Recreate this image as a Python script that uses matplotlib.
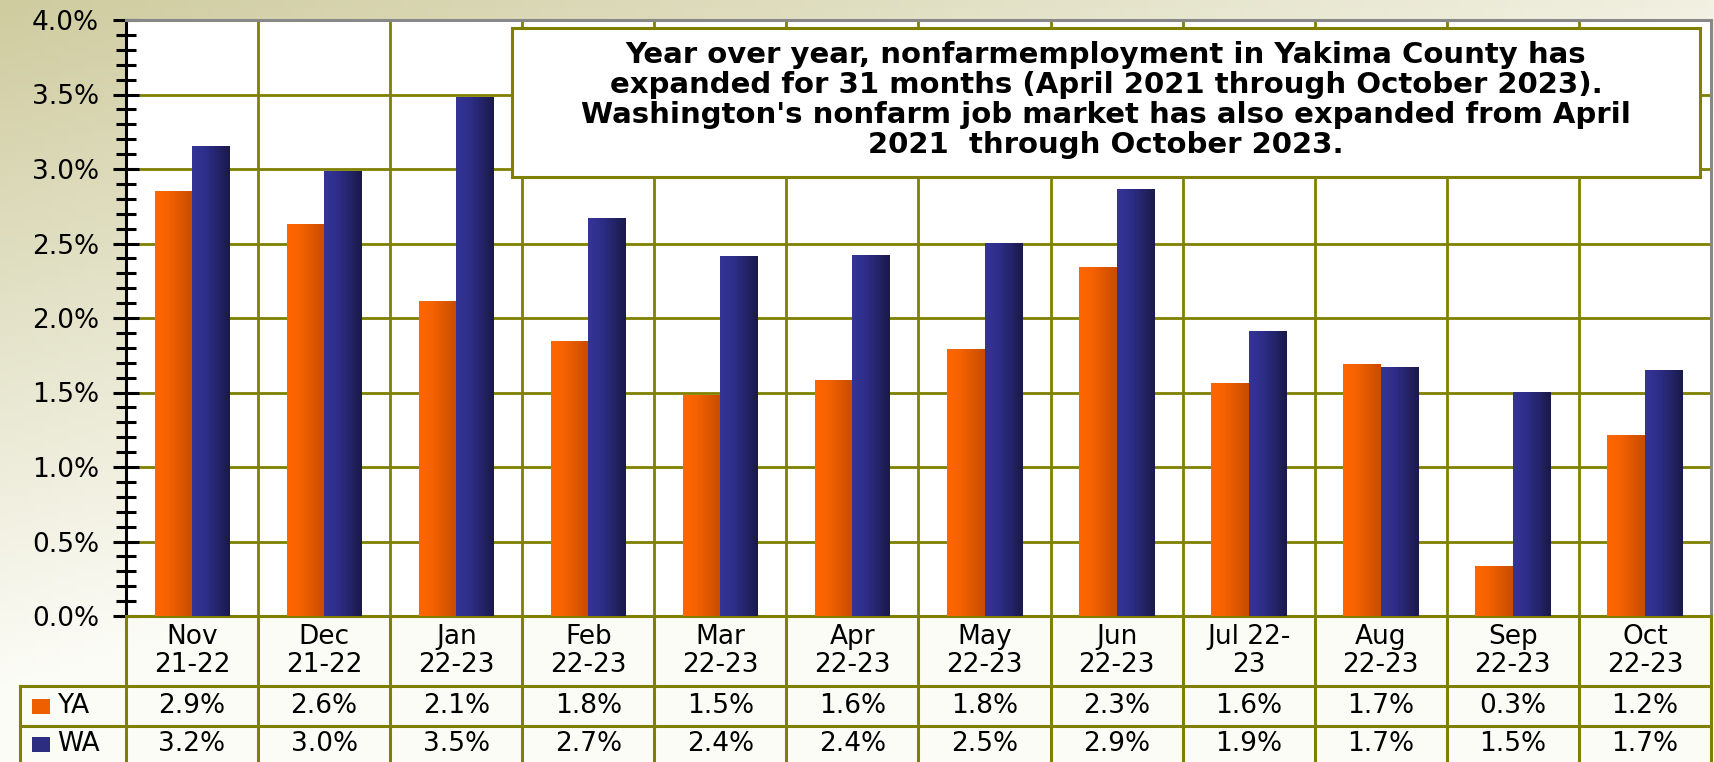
import numpy as np
import matplotlib
matplotlib.use('Agg')
import matplotlib.pyplot as plt
from matplotlib.colors import LinearSegmentedColormap
from matplotlib.patches import Rectangle

# data
months = ['Nov\n21-22', 'Dec\n21-22', 'Jan\n22-23', 'Feb\n22-23', 'Mar\n22-23', 'Apr\n22-23',
          'May\n22-23', 'Jun\n22-23', 'Jul 22-\n23', 'Aug\n22-23', 'Sep\n22-23', 'Oct\n22-23']
ya = [2.85, 2.63, 2.11, 1.84, 1.48, 1.58, 1.79, 2.34, 1.56, 1.69, 0.33, 1.21]
wa = [3.15, 2.98, 3.48, 2.67, 2.41, 2.42, 2.50, 2.86, 1.91, 1.67, 1.50, 1.65]
ya_labels = ['2.9%', '2.6%', '2.1%', '1.8%', '1.5%', '1.6%', '1.8%', '2.3%', '1.6%', '1.7%', '0.3%', '1.2%']
wa_labels = ['3.2%', '3.0%', '3.5%', '2.7%', '2.4%', '2.4%', '2.5%', '2.9%', '1.9%', '1.7%', '1.5%', '1.7%']
series_names = ['YA', 'WA']
yticks = np.arange(0, 4.01, 0.5)
note = ("Year over year, nonfarmemployment in Yakima County has\n"
        "expanded for 31 months (April 2021 through October 2023).\n"
        "Washington's nonfarm job market has also expanded from April\n"
        "2021  through October 2023.")

OLIVE = '#808000'
W, H = 1715, 762
plt.rcParams['font.family'] = ['DejaVu Sans']

fig = plt.figure(figsize=(W / 100, H / 100), dpi=100)

# background gradient (olive-beige top-left to white bottom-right)
bg = fig.add_axes([0, 0, 1, 1], zorder=-10)
xx, yy = np.meshgrid(np.linspace(0, 1, 200), np.linspace(0, 1, 100))
t = np.clip(0.75 * xx + 1.1 * yy, 0, 1)[..., None]
c0 = np.array([207, 204, 160]) / 255
img = c0 * (1 - t) + np.array([0.99, 0.99, 0.97]) * t
bg.imshow(img, aspect='auto', extent=[0, 1, 1, 0])
bg.axis('off')

L, R, T, B = 126, 1711, 20, 616
ax = fig.add_axes([L / W, 1 - B / H, (R - L) / W, (B - T) / H])
ax.set_facecolor('white')

n = len(months)
x = np.arange(n)
bw = 0.284
b1 = ax.bar(x - bw / 2, ya, bw, color='#FF6600', zorder=3)
b2 = ax.bar(x + bw / 2, wa, bw, color='#333399', zorder=3)

orange = LinearSegmentedColormap.from_list('o', [(0, '#FF6600'), (0.35, '#F56200'), (1, '#C84C00')])
navy = LinearSegmentedColormap.from_list('n', [(0, '#343496'), (0.35, '#2E2E8A'), (1, '#1A1A4A')])
grad = np.linspace(0, 1, 64).reshape(1, -1)
for bars, cm in ((b1, orange), (b2, navy)):
    for bar in bars:
        x0, w, h = bar.get_x(), bar.get_width(), bar.get_height()
        ax.imshow(grad, extent=[x0, x0 + w, 0, h], aspect='auto', cmap=cm, zorder=4)

ax.set_xlim(-0.5, n - 0.5)
ax.set_ylim(0, 4.0)

# grid
for v in yticks[1:-1]:
    ax.axhline(v, color=OLIVE, lw=2, zorder=1)
for b in np.arange(0.5, n - 0.5):
    ax.axvline(b, color=OLIVE, lw=2, zorder=1)

ax.set_yticks(yticks)
ax.set_yticklabels(['%.1f%%' % v for v in yticks], fontsize=19)
ax.set_yticks(np.arange(0, 4.01, 0.1), minor=True)
ax.tick_params(axis='y', which='major', direction='inout', length=19, width=2.2, pad=10)
ax.tick_params(axis='y', which='minor', direction='inout', length=15, width=2.2)
ax.set_xticks([])

ax.spines['left'].set_color('black')
ax.spines['left'].set_linewidth(2.2)
for s in ('top', 'right'):
    ax.spines[s].set_color('#888888')
    ax.spines[s].set_linewidth(2.2)
ax.spines['bottom'].set_color(OLIVE)
ax.spines['bottom'].set_linewidth(2.2)

# annotation box
bx0, bx1 = (512 - L) / (R - L), (1700 - L) / (R - L)
by0, by1 = 1 - (177 - T) / (B - T), 1 - (28 - T) / (B - T)
ax.add_patch(Rectangle((bx0, by0), bx1 - bx0, by1 - by0, transform=ax.transAxes,
                       facecolor='white', edgecolor=OLIVE, linewidth=2.2, zorder=9))
ax.text((bx0 + bx1) / 2, (by0 + by1) / 2 + 0.004, note, transform=ax.transAxes, ha='center', va='center',
        fontsize=21, fontweight='bold', linespacing=1.09, zorder=10)

# data table below the plot
tax = fig.add_axes([L / W, 0, (R - L) / W, (H - B) / H])
tax.set_xlim(-0.5, n - 0.5)
tax.set_ylim(H - B, 0)
tax.axis('off')
xL = -0.5 - (L - 20) / ((R - L) / n)
row_y = [70, 110]
for yv in row_y:
    tax.plot([xL, n - 0.5], [yv, yv], color=OLIVE, lw=2.2, clip_on=False)
for b in np.arange(-0.5, n):
    tax.plot([b, b], [0, H - B], color=OLIVE, lw=2.2, clip_on=False)
tax.plot([xL, xL], [70, H - B], color=OLIVE, lw=2.2, clip_on=False)

for i, m in enumerate(months):
    tax.text(i, 35, m, ha='center', va='center', fontsize=19, linespacing=1.05)
    tax.text(i, 90, ya_labels[i], ha='center', va='center', fontsize=19)
    tax.text(i, 128, wa_labels[i], ha='center', va='center', fontsize=19)

for name, yc, col in ((series_names[0], 90, '#EE5F00'), (series_names[1], 128, '#2C2C80')):
    tax.add_patch(Rectangle((xL + 0.09, yc - 7), 0.14, 15, facecolor=col, clip_on=False))
    tax.text(xL + 0.28, yc, name, ha='left', va='center', fontsize=19)

fig.savefig('out.png', dpi=100)
